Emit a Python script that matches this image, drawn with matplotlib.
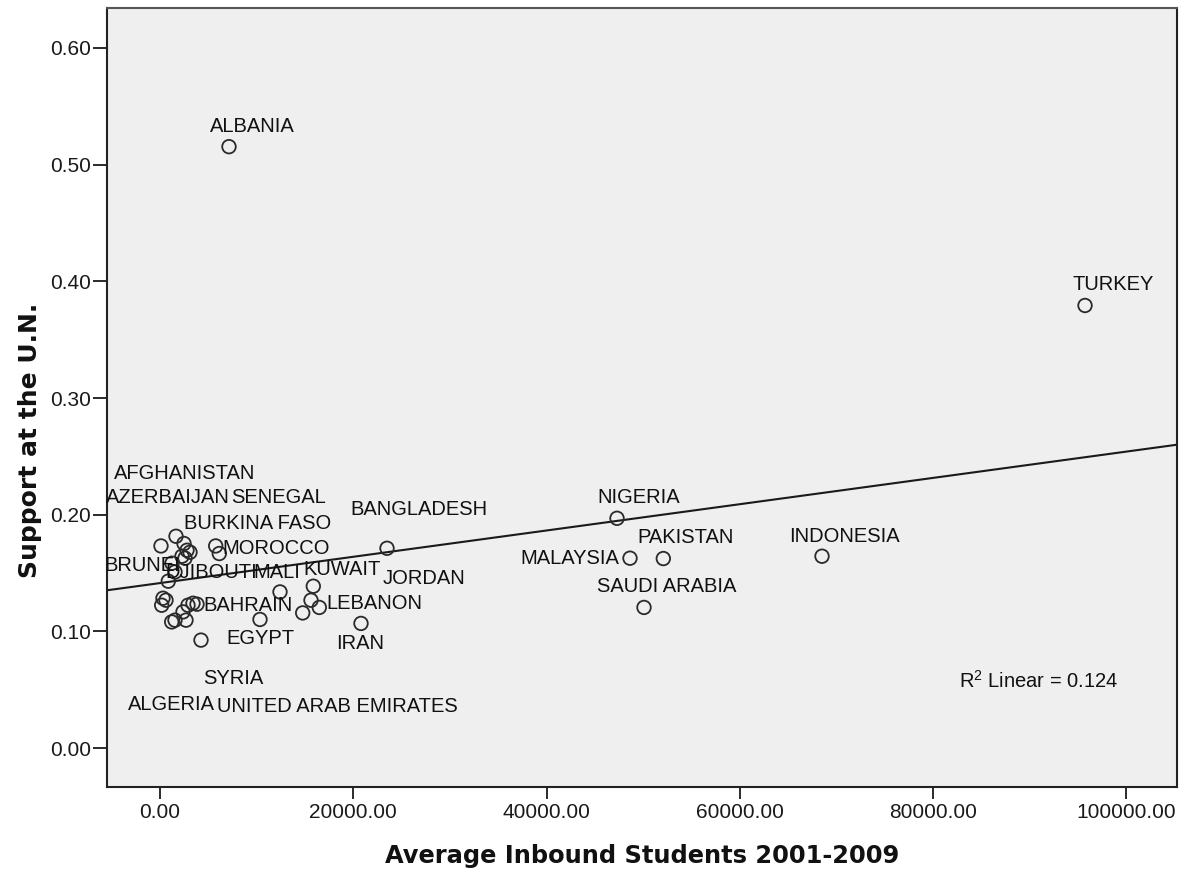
import numpy as np
import matplotlib
matplotlib.use("Agg")
import matplotlib.pyplot as plt

plt.rcParams["font.family"] = ["Liberation Sans", "DejaVu Sans"]
plt.rcParams["mathtext.fontset"] = "custom"
plt.rcParams["mathtext.rm"] = "Liberation Sans"

# Average inbound students (2001-2009) and share of support at the U.N.
students = [
    103, 1656, 2483, 2794, 2276, 3104, 5763, 6136, 1552, 859,
    310, 176, 620, 2897, 3414, 3828, 2380, 1211, 2690, 1552,
    4243, 1242, 2587, 10347, 12416, 15862, 15624, 16483, 14765, 20797,
    23488, 47286, 48631, 52077, 50079, 68497, 95710, 7139,
]
support = [
    0.1732, 0.1815, 0.1753, 0.1695, 0.1644, 0.1678, 0.1732, 0.1667, 0.1509, 0.1430,
    0.1284, 0.1224, 0.1267, 0.1224, 0.1241, 0.1233, 0.1167, 0.1081, 0.1096, 0.1096,
    0.0925, 0.1584, 0.1627, 0.1102, 0.1338, 0.1387, 0.1267, 0.1205, 0.1158, 0.1068,
    0.1712, 0.1969, 0.1627, 0.1624, 0.1205, 0.1644, 0.3793, 0.5154,
]

# Country names shown on the chart
country_names = [
    "AFGHANISTAN", "AZERBAIJAN", "SENEGAL", "BURKINA FASO", "BANGLADESH",
    "MOROCCO", "BRUNEI", "DJIBOUTI", "MALI", "KUWAIT", "JORDAN", "BAHRAIN",
    "LEBANON", "EGYPT", "IRAN", "SYRIA", "ALGERIA", "UNITED ARAB EMIRATES",
    "ALBANIA", "TURKEY", "INDONESIA", "NIGERIA", "PAKISTAN", "MALAYSIA",
    "SAUDI ARABIA",
]

x_ticks = [0, 20000, 40000, 60000, 80000, 100000]
y_ticks = [0.0, 0.1, 0.2, 0.3, 0.4, 0.5, 0.6]
r2_text = "0.124"

# Where each country name sits (data coordinates, centred)
label_xy = {
    "AFGHANISTAN": (2587, 0.2354),
    "AZERBAIJAN": (828, 0.2149),
    "SENEGAL": (12261, 0.2149),
    "BURKINA FASO": (10140, 0.1926),
    "BANGLADESH": (26799, 0.2046),
    "MOROCCO": (12054, 0.1712),
    "BRUNEI": (-1862, 0.1567),
    "DJIBOUTI": (5277, 0.1507),
    "MALI": (12106, 0.1507),
    "KUWAIT": (18832, 0.1533),
    "JORDAN": (27316, 0.1455),
    "BAHRAIN": (9105, 0.1224),
    "LEBANON": (22143, 0.1241),
    "EGYPT": (10399, 0.0942),
    "IRAN": (20694, 0.0899),
    "SYRIA": (7605, 0.0599),
    "ALGERIA": (1190, 0.0377),
    "UNITED ARAB EMIRATES": (18366, 0.0360),
    "ALBANIA": (9519, 0.5325),
    "TURKEY": (98607, 0.3973),
    "INDONESIA": (70773, 0.1815),
    "NIGERIA": (49562, 0.2149),
    "PAKISTAN": (54374, 0.1807),
    "MALAYSIA": (42371, 0.1627),
    "SAUDI ARABIA": (52459, 0.1387),
}

fig = plt.figure(figsize=(11.81, 8.73), dpi=100)
ax = fig.add_axes([0.0906, 0.0985, 0.906, 0.892])
ax.set_facecolor("#efefef")

xlim = (-5483, 105225)
ylim = (-0.0334, 0.634)
ax.set_xlim(*xlim)
ax.set_ylim(*ylim)

ax.scatter(students, support, s=95, facecolors="none", edgecolors="#2a2a2a",
           linewidths=1.3, zorder=3)

# Least-squares line across the full x range
slope, intercept = np.polyfit(students, support, 1)
xs = np.array(xlim)
ax.plot(xs, intercept + slope * xs, color="#1a1a1a", lw=1.5, zorder=2)

for name in country_names:
    lx, ly = label_xy[name]
    ax.text(lx, ly, name, ha="center", va="center", fontsize=14.5,
            color="#111111", zorder=4)

ax.text(90950, 0.0574, r"R$^{\mathrm{2}}$ Linear = " + r2_text, ha="center",
        va="center", fontsize=14.5, color="#111111")

ax.set_xticks(x_ticks)
ax.set_xticklabels([f"{v:.2f}" for v in x_ticks])
ax.set_yticks(y_ticks)
ax.set_yticklabels([f"{v:.2f}" for v in y_ticks])
ax.tick_params(axis="x", length=8.6, width=1.3, pad=3, labelsize=15,
               colors="#1a1a1a")
ax.tick_params(axis="y", length=10, width=1.3, pad=1.5, labelsize=15,
               colors="#1a1a1a")

for side in ["left", "bottom", "right", "top"]:
    ax.spines[side].set_linewidth(1.5)
    ax.spines[side].set_color("#222222")
ax.spines["top"].set_color("#555555")

fig.text(642 / 1181, 1 - 856 / 873, "Average Inbound Students 2001-2009",
         ha="center", va="center", fontsize=17.4, fontweight="bold",
         family="DejaVu Sans", color="#111111")
fig.text(30 / 1181, 1 - 440 / 873, "Support at the U.N.", rotation=90,
         ha="center", va="center", fontsize=18, fontweight="bold",
         family="DejaVu Sans", color="#111111")

fig.savefig("out.png", dpi=100, facecolor="white")
